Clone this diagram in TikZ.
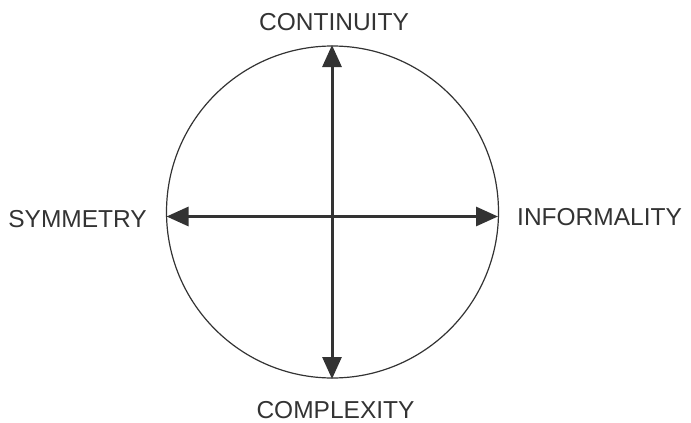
\documentclass[tikz,border=0pt]{standalone}
\usepackage{fontspec}
\setmainfont{Liberation Sans}
\usetikzlibrary{arrows.meta}
\definecolor{ink}{HTML}{333333}
\begin{document}
\begin{tikzpicture}[x=1pt,y=-1pt,
  axis/.style={draw=ink,line width=3pt,{Triangle[length=22pt,width=19pt]}-{Triangle[length=22pt,width=19pt]}},
  lbl/.style={text=ink,font=\fontsize{24.5}{27}\selectfont,inner sep=0pt}]
  \useasboundingbox (0,0) rectangle (691,423);
  % outer circle
  \node[draw=ink,line width=1.2pt,circle,minimum size=332pt,inner sep=0pt] (c) at (332.5,212) {};
  % axis ends on the circle
  \coordinate (top) at (332,45);
  \coordinate (bot) at (332,379);
  \coordinate (lft) at (166.5,216.5);
  \coordinate (rgt) at (498,216.5);
  \draw[axis] (bot) -- (top);
  \draw[axis] (lft) -- (rgt);
  % pole labels
  \node[lbl] (n) at (334,22) {CONTINUITY};
  \node[lbl] (s) at (335.5,410) {COMPLEXITY};
  \node[lbl,anchor=east] (w) at (147,219) {SYMMETRY};
  \node[lbl,anchor=west] (e) at (517,217) {INFORMALITY};
\end{tikzpicture}
\end{document}
